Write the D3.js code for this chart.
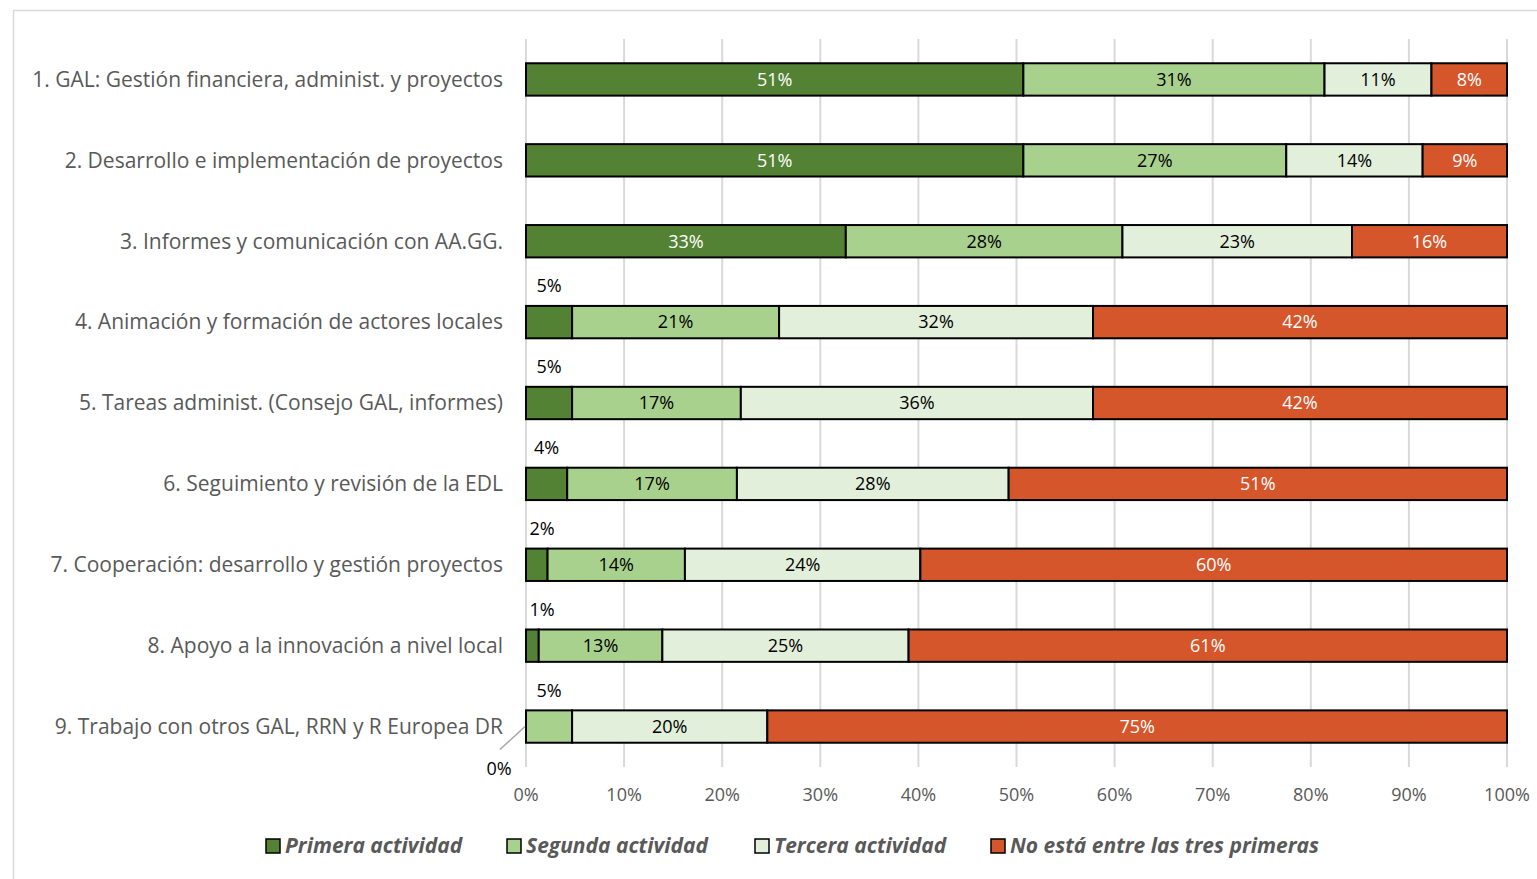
<!DOCTYPE html>
<html>
<head>
<meta charset="utf-8">
<script src="https://cdn.jsdelivr.net/npm/d3@7"></script>
<style>
  body { margin: 0; background: #fff; }
  svg { display: block; font-family: "Open Sans", Lato, sans-serif; }
</style>
</head>
<body>
<svg id="chart" width="1537" height="879"></svg>
<script>
const categories = [
  "1. GAL: Gestión financiera, administ. y proyectos",
  "2. Desarrollo e implementación de proyectos",
  "3. Informes y comunicación con AA.GG.",
  "4. Animación y formación de actores locales",
  "5. Tareas administ. (Consejo GAL, informes)",
  "6. Seguimiento y revisión de la EDL",
  "7. Cooperación: desarrollo y gestión proyectos",
  "8. Apoyo a la innovación a nivel local",
  "9. Trabajo con otros GAL, RRN y R Europea DR"
];
const seriesNames = ["Primera actividad", "Segunda actividad", "Tercera actividad", "No está entre las tres primeras"];
const primera = [50.7, 50.7, 32.6, 4.7, 4.7, 4.2, 2.2, 1.3, 0];
const segunda = [30.7, 26.8, 28.2, 21.1, 17.2, 17.3, 14.0, 12.6, 4.7];
const tercera = [10.9, 13.9, 23.4, 32.0, 35.9, 27.7, 24.0, 25.1, 19.9];
const noEsta  = [7.7, 8.6, 15.8, 42.2, 42.2, 50.8, 59.8, 61.0, 75.4];
const colors = ["#548235", "#a9d18e", "#e2efda", "#d6562b"];
const textColors = ["#ffffff", "#000000", "#000000", "#ffffff"];
const xTicks = [0, 10, 20, 30, 40, 50, 60, 70, 80, 90, 100];

const rows = categories.map((c, i) => ({
  cat: c, values: [primera[i], segunda[i], tercera[i], noEsta[i]]
}));

const svg = d3.select("#chart");
const margin = {left: 526, right: 30, top: 39, bottom: 112};
const W = 1537, H = 879;

// chart border
svg.append("rect")
  .attr("x", 13.5).attr("y", 10.5)
  .attr("width", W + 20).attr("height", H + 20)
  .attr("fill", "none").attr("stroke", "#d9d9d9").attr("stroke-width", 1.5);

const x = d3.scaleLinear().domain([0, 100]).range([margin.left, 1507]);
const y = d3.scaleBand().domain(categories).range([margin.top, H - margin.bottom]).paddingInner(0.6).paddingOuter(0.3);

// gridlines
svg.append("g").selectAll("line").data(xTicks).join("line")
  .attr("x1", d => x(d)).attr("x2", d => x(d))
  .attr("y1", margin.top).attr("y2", H - margin.bottom)
  .attr("stroke", "#d9d9d9").attr("stroke-width", 2);

// tick labels
svg.append("g").selectAll("text").data(xTicks).join("text")
  .attr("x", d => x(d)).attr("y", 801)
  .attr("text-anchor", "middle")
  .attr("font-size", 18).attr("fill", "#595959")
  .text(d => d + "%");

// category labels
svg.append("g").selectAll("text").data(categories).join("text")
  .attr("x", 503).attr("y", d => y(d) + y.bandwidth() / 2)
  .attr("dy", "0.35em").attr("text-anchor", "end")
  .attr("font-size", 21).attr("fill", "#595959")
  .text(d => d);

// stacked segments
const segs = [];
rows.forEach(r => {
  let acc = 0;
  r.values.forEach((v, k) => {
    segs.push({cat: r.cat, k, v, x0: acc, x1: acc + v});
    acc += v;
  });
});

const bars = svg.append("g");
bars.selectAll("rect").data(segs.filter(s => s.v > 0)).join("rect")
  .attr("x", d => x(d.x0)).attr("width", d => x(d.x1) - x(d.x0))
  .attr("y", d => y(d.cat)).attr("height", y.bandwidth())
  .attr("fill", d => colors[d.k])
  .attr("stroke", "#000").attr("stroke-width", 2);

// value labels
const fmt = v => Math.round(v) + "%";
const inside = segs.filter(s => s.v >= 6);
const outside = segs.filter(s => s.v > 0 && s.v < 6);
bars.selectAll("text.in").data(inside).join("text")
  .attr("class", "in")
  .attr("x", d => x((d.x0 + d.x1) / 2)).attr("y", d => y(d.cat) + y.bandwidth() / 2)
  .attr("dy", "0.35em").attr("text-anchor", "middle")
  .attr("font-size", 18).attr("fill", d => textColors[d.k])
  .text(d => fmt(d.v));
bars.selectAll("text.out").data(outside).join("text")
  .attr("class", "out")
  .attr("x", d => Math.max(x((d.x0 + d.x1) / 2), x(0) + 16))
  .attr("y", d => y(d.cat) + y.bandwidth() / 2 - 36)
  .attr("dy", "0.35em").attr("text-anchor", "middle")
  .attr("font-size", 18).attr("fill", "#000")
  .text(d => fmt(d.v));

// zero label with leader line for the last row
const last = categories[categories.length - 1];
const yc = y(last) + y.bandwidth() / 2;
svg.append("line")
  .attr("x1", x(0) - 1).attr("y1", yc)
  .attr("x2", x(0) - 26).attr("y2", yc + 23)
  .attr("stroke", "#a6a6a6").attr("stroke-width", 1.5);
svg.append("text")
  .attr("x", x(0) - 27).attr("y", yc + 42)
  .attr("dy", "0.35em").attr("text-anchor", "middle")
  .attr("font-size", 18).attr("fill", "#000")
  .text(fmt(primera[primera.length - 1]));

// legend
const legendX = [266, 507, 755, 991];
const lg = svg.append("g").selectAll("g").data(seriesNames).join("g")
  .attr("transform", (d, i) => `translate(${legendX[i]},846)`);
lg.append("rect")
  .attr("x", 0).attr("y", -7).attr("width", 14).attr("height", 14)
  .attr("fill", (d, i) => colors[i]).attr("stroke", "#000").attr("stroke-width", 1.5);
lg.append("text")
  .attr("x", 19).attr("dy", "0.35em")
  .attr("font-size", 21).attr("font-weight", "bold").attr("font-style", "italic")
  .attr("fill", "#595959")
  .text(d => d);
</script>
</body>
</html>
